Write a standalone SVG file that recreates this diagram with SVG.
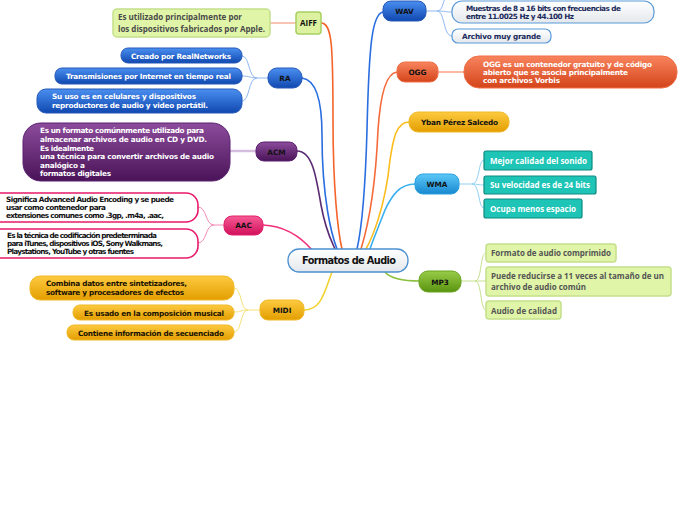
<svg xmlns="http://www.w3.org/2000/svg" width="697" height="520" viewBox="0 0 697 520">
<defs>
<linearGradient id="gBlue" x1="0" y1="0" x2="0" y2="1"><stop offset="0" stop-color="#4a8ff0"/><stop offset="1" stop-color="#1048b0"/></linearGradient>
<linearGradient id="gPurple" x1="0" y1="0" x2="0" y2="1"><stop offset="0" stop-color="#8c4c9c"/><stop offset="1" stop-color="#4a1358"/></linearGradient>
<linearGradient id="gPink" x1="0" y1="0" x2="0" y2="1"><stop offset="0" stop-color="#f75a95"/><stop offset="1" stop-color="#d0105a"/></linearGradient>
<linearGradient id="gGold" x1="0" y1="0" x2="0" y2="1"><stop offset="0" stop-color="#fdca40"/><stop offset="1" stop-color="#e39e00"/></linearGradient>
<linearGradient id="gOrange" x1="0" y1="0" x2="0" y2="1"><stop offset="0" stop-color="#f8845e"/><stop offset="1" stop-color="#d4441a"/></linearGradient>
<linearGradient id="gSky" x1="0" y1="0" x2="0" y2="1"><stop offset="0" stop-color="#5cc8f8"/><stop offset="1" stop-color="#1888d0"/></linearGradient>
<linearGradient id="gGreen" x1="0" y1="0" x2="0" y2="1"><stop offset="0" stop-color="#98cc48"/><stop offset="1" stop-color="#5a9410"/></linearGradient>
<linearGradient id="gWhite" x1="0" y1="0" x2="0" y2="1"><stop offset="0" stop-color="#ffffff"/><stop offset="1" stop-color="#e4e8ec"/></linearGradient>
</defs>
<style>
.t{font-family:"DejaVu Sans",Verdana,sans-serif;font-weight:bold;font-size:7.3px;}
.o{font-family:"Open Sans","Noto Sans",sans-serif;font-weight:bold;font-size:8px;}
.lbl{text-anchor:middle;fill:#111;}
.main{fill:none;stroke-width:1.6;stroke-linecap:round;}
.sub{fill:none;stroke-width:1;}
.blue{fill:url(#gBlue);stroke:#2558b8;stroke-width:1;}
.purple{fill:url(#gPurple);stroke:#5a2070;stroke-width:1;}
.pink{fill:url(#gPink);stroke:#e0206a;stroke-width:1;}
.gold{fill:url(#gGold);stroke:#f0b828;stroke-width:1;}
.orange{fill:url(#gOrange);stroke:#f07048;stroke-width:1;}
.sky{fill:url(#gSky);stroke:#2aa0e0;stroke-width:1;}
.green{fill:url(#gGreen);stroke:#6aa420;stroke-width:1;}
.lgreen{fill:#e0f5a8;stroke:#c4e08a;stroke-width:1.5;}
.teal{fill:#1ec4b6;stroke:#0c8a80;stroke-width:1.2;}
.whiteb{fill:url(#gWhite);stroke:#5a9ad8;stroke-width:1.2;}
.pinkb{fill:#ffffff;stroke:#e8186a;stroke-width:1.6;}
</style>

<g id="connectors">
<path class="main" stroke="#f4642a" d="M321,23 C332,23 333,45 333,120 C333,190 338,232 342,249"/>
<path class="main" stroke="#2a6ee0" d="M302,78 C318,80 322,105 322,135 C322,200 332,236 337,249"/>
<path class="main" stroke="#5a2a72" d="M297,151 C312,151 316,175 321,205 C326,232 332,242 335,249"/>
<path class="main" stroke="#f0307a" d="M263,225 C285,226 300,236 312,250"/>
<path class="main" stroke="#f2d232" d="M304,310 C322,310 325,290 332,272"/>
<path class="main" stroke="#2a6ee0" d="M383,12 C372,14 369,45 367,130 C365,200 360,236 357,249"/>
<path class="main" stroke="#f56a3a" d="M397,72 C385,73 380,100 378,130 C375,200 365,236 361,249"/>
<path class="main" stroke="#fbbc1c" d="M409,122 C396,122 393,140 390,160 C385,210 371,240 366,249"/>
<path class="main" stroke="#3ab0f0" d="M415,184 C400,184 392,195 385,210 C378,228 373,240 370,249"/>
<path class="main" stroke="#8cc040" d="M420,281 C400,281 390,278 385,272"/>

<path fill="none" stroke="#f8c4b4" stroke-width="2" d="M270,23 H296"/>
<path fill="none" stroke="#d4bcdc" stroke-width="2.5" d="M230,151 H256"/>
<path fill="none" stroke="#f7a286" stroke-width="1.5" d="M438,72 H464"/>

<g stroke="#8fb8f0" class="sub">
<path d="M268,78 H257 C248,78 250,56 242,56"/>
<path d="M257,78 C250,78 250,76 242,76"/>
<path d="M257,78 C248,78 250,101 242,101"/>
</g>
<g stroke="#8fb8f0" class="sub">
<path d="M426,11 H437 C445,11 445,12 452,12"/>
<path d="M437,11 C445,11 443,36 452,36"/>
<path d="M437,11 C443,11 442,3 446,-3"/>
</g>
<g stroke="#f48ab4" class="sub">
<path d="M224,225 H214 C205,225 207,207 198,207"/>
<path d="M214,225 C205,225 207,243 198,243"/>
</g>
<g stroke="#f6e27a" class="sub">
<path d="M260,310 H248 C240,310 242,288 234,288"/>
<path d="M248,310 C240,310 242,312 234,312"/>
<path d="M248,310 C240,310 242,332 234,332"/>
</g>
<g stroke="#90d0f4" class="sub">
<path d="M459,184 H472 C480,184 478,160 484,160"/>
<path d="M472,184 C478,184 478,185 484,185"/>
<path d="M472,184 C480,184 478,208 484,208"/>
</g>
<g stroke="#c4e08a" class="sub">
<path d="M461,281 H475 C482,281 480,253 486,253"/>
<path d="M475,281 C482,281 480,281 486,281"/>
<path d="M475,281 C482,281 480,310 486,310"/>
</g>
</g>

<g id="central">
<rect x="288" y="249" width="120" height="23" rx="11" fill="url(#gWhite)" stroke="#4a90d0" stroke-width="1.3"/>
<text x="302" y="264" class="t" style="font-size:9.8px" fill="#111" textLength="94">Formatos de Audio</text>
</g>

<g id="aiff">
<rect x="296" y="12" width="25" height="22" rx="3" fill="#dcf2a0" stroke="#a8d060" stroke-width="1.5"/>
<text x="308.5" y="26" class="o lbl" style="font-size:8px" fill="#444">AIFF</text>
</g>
<g id="aiff-1">
<rect x="113" y="9" width="157" height="28" rx="4" class="lgreen"/>
<text x="118" y="20" class="o" fill="#4a4a4a" textLength="124">Es utilizado principalmente por</text>
<text x="118" y="32" class="o" fill="#4a4a4a" textLength="147">los dispositivos fabricados por Apple.</text>
</g>

<g id="ra">
<rect x="268" y="68" width="34" height="20" rx="9" class="blue"/>
<text x="285" y="81" class="t lbl">RA</text>
</g>
<g id="ra-1">
<rect x="121" y="48" width="121" height="15" rx="7" class="blue"/>
<text x="131" y="58.5" class="t" fill="#fff" textLength="100">Creado por RealNetworks</text>
</g>
<g id="ra-2">
<rect x="55" y="68" width="187" height="16" rx="7" class="blue"/>
<text x="66" y="79" class="t" fill="#fff" textLength="165">Transmisiones por Internet en tiempo real</text>
</g>
<g id="ra-3">
<rect x="37" y="89" width="205" height="24" rx="9" class="blue"/>
<text x="52" y="99" class="t" fill="#fff" textLength="144">Su uso es en celulares y dispositivos</text>
<text x="52" y="107.5" class="t" fill="#fff" textLength="156">reproductores de audio y video portátil.</text>
</g>

<g id="acm">
<rect x="256" y="142" width="41" height="19" rx="8" class="purple"/>
<text x="276.5" y="154.5" class="t lbl">ACM</text>
</g>
<g id="acm-1">
<rect x="23" y="123" width="207" height="58" rx="18" class="purple"/>
<text x="40" y="133" class="t" fill="#fff" textLength="164">Es un formato comúnnmente utilizado para</text>
<text x="40" y="142" class="t" fill="#fff" textLength="167">almacenar archivos de audio en CD y DVD.</text>
<text x="40" y="150.5" class="t" fill="#fff" textLength="54">Es idealmente</text>
<text x="40" y="159" class="t" fill="#fff" textLength="174">una técnica para convertir archivos de audio</text>
<text x="40" y="167.5" class="t" fill="#fff" textLength="45">analógico a</text>
<text x="40" y="176" class="t" fill="#fff" textLength="71">formatos digitales</text>
</g>

<g id="aac">
<rect x="224" y="216" width="39" height="19" rx="8" class="pink"/>
<text x="243.5" y="228" class="t lbl">AAC</text>
</g>
<g id="aac-1">
<rect x="-12" y="193" width="210" height="29" rx="12" class="pinkb"/>
<text x="6" y="201.5" class="t" fill="#111" textLength="168">Significa Advanced Audio Encoding y se puede</text>
<text x="6" y="209.5" class="t" fill="#111" textLength="100">usar como contenedor para</text>
<text x="6" y="217.5" class="t" fill="#111" textLength="158">extensiones comunes como .3gp, .m4a, .aac,</text>
</g>
<g id="aac-2">
<rect x="-12" y="229" width="210" height="29" rx="12" class="pinkb"/>
<text x="7" y="237.5" class="t" fill="#111" textLength="150">Es la técnica de codificación predeterminada</text>
<text x="7" y="245.5" class="t" fill="#111" textLength="156">para iTunes, dispositivos iOS, Sony Walkmans,</text>
<text x="7" y="253.5" class="t" fill="#111" textLength="127">Playstations, YouTube y otras fuentes</text>
</g>

<g id="midi">
<rect x="260" y="300" width="44" height="20" rx="8" class="gold"/>
<text x="282" y="313" class="t lbl">MIDI</text>
</g>
<g id="midi-1">
<rect x="30" y="276" width="204" height="24" rx="10" class="gold"/>
<text x="46" y="286" class="t" fill="#1a1200" textLength="141">Combina datos entre sintetizadores,</text>
<text x="46" y="294.5" class="t" fill="#1a1200" textLength="138">software y procesadores de efectos</text>
</g>
<g id="midi-2">
<rect x="73" y="305" width="161" height="15" rx="7" class="gold"/>
<text x="84" y="315.5" class="t" fill="#1a1200" textLength="140">Es usado en la composición musical</text>
</g>
<g id="midi-3">
<rect x="67" y="325" width="167" height="15" rx="7" class="gold"/>
<text x="78" y="335.5" class="t" fill="#1a1200" textLength="146">Contiene información de secuenciado</text>
</g>

<g id="wav">
<rect x="383" y="1" width="43" height="20" rx="8" class="blue"/>
<text x="404.5" y="14" class="t lbl">WAV</text>
</g>
<g id="wav-1">
<rect x="452" y="1" width="202" height="22" rx="10" class="whiteb"/>
<text x="466" y="10.5" class="t" fill="#1a2a5a" textLength="155">Muestras de 8 a 16 bits con frecuencias de</text>
<text x="466" y="19" class="t" fill="#1a2a5a" textLength="108">entre 11.0025 Hz y 44.100 Hz</text>
</g>
<g id="wav-2">
<rect x="452" y="29" width="99" height="14" rx="6" class="whiteb"/>
<text x="462" y="39" class="t" fill="#1a2a5a" textLength="79">Archivo muy grande</text>
</g>

<g id="ogg">
<rect x="397" y="62" width="41" height="20" rx="8" class="orange"/>
<text x="417.5" y="75" class="t lbl">OGG</text>
</g>
<g id="ogg-1">
<rect x="464" y="56" width="213" height="32" rx="15" class="orange"/>
<text x="483" y="66.5" class="t" fill="#fff" textLength="169">OGG es un contenedor gratuito y de código</text>
<text x="483" y="74.5" class="t" fill="#fff" textLength="145">abierto que se asocia principalmente</text>
<text x="483" y="83" class="t" fill="#fff" textLength="77">con archivos Vorbis</text>
</g>

<g id="yban">
<rect x="409" y="112" width="100" height="20" rx="9" class="gold"/>
<text x="421" y="125" class="t" fill="#111" textLength="77">Yban Pérez Salcedo</text>
</g>

<g id="wma">
<rect x="415" y="174" width="44" height="20" rx="8" class="sky"/>
<text x="437" y="187" class="t lbl">WMA</text>
</g>
<g id="wma-1">
<rect x="484" y="151" width="108" height="19" rx="2" class="teal"/>
<text x="490" y="163.5" class="o" fill="#fff" textLength="97">Mejor calidad del sonido</text>
</g>
<g id="wma-2">
<rect x="484" y="176" width="112" height="18" rx="2" class="teal"/>
<text x="490" y="188" class="o" fill="#fff" textLength="100">Su velocidad es de 24 bits</text>
</g>
<g id="wma-3">
<rect x="484" y="199" width="98" height="19" rx="2" class="teal"/>
<text x="490" y="211.5" class="o" fill="#fff" textLength="86">Ocupa menos espacio</text>
</g>

<g id="mp3">
<rect x="419" y="271" width="42" height="21" rx="9" class="green"/>
<text x="440" y="284.5" class="t lbl">MP3</text>
</g>
<g id="mp3-1">
<rect x="486" y="244" width="130" height="18" rx="3" class="lgreen"/>
<text x="491" y="256" class="o" fill="#555" textLength="120">Formato de audio comprimido</text>
</g>
<g id="mp3-2">
<rect x="486" y="267" width="185" height="29" rx="3" class="lgreen"/>
<text x="491" y="278.5" class="o" fill="#555" textLength="173">Puede reducirse a 11 veces al tamaño de un</text>
<text x="491" y="290" class="o" fill="#555" textLength="95">archivo de audio común</text>
</g>
<g id="mp3-3">
<rect x="486" y="301" width="75" height="18" rx="3" class="lgreen"/>
<text x="491" y="313.5" class="o" fill="#555" textLength="66">Audio de calidad</text>
</g>
</svg>
